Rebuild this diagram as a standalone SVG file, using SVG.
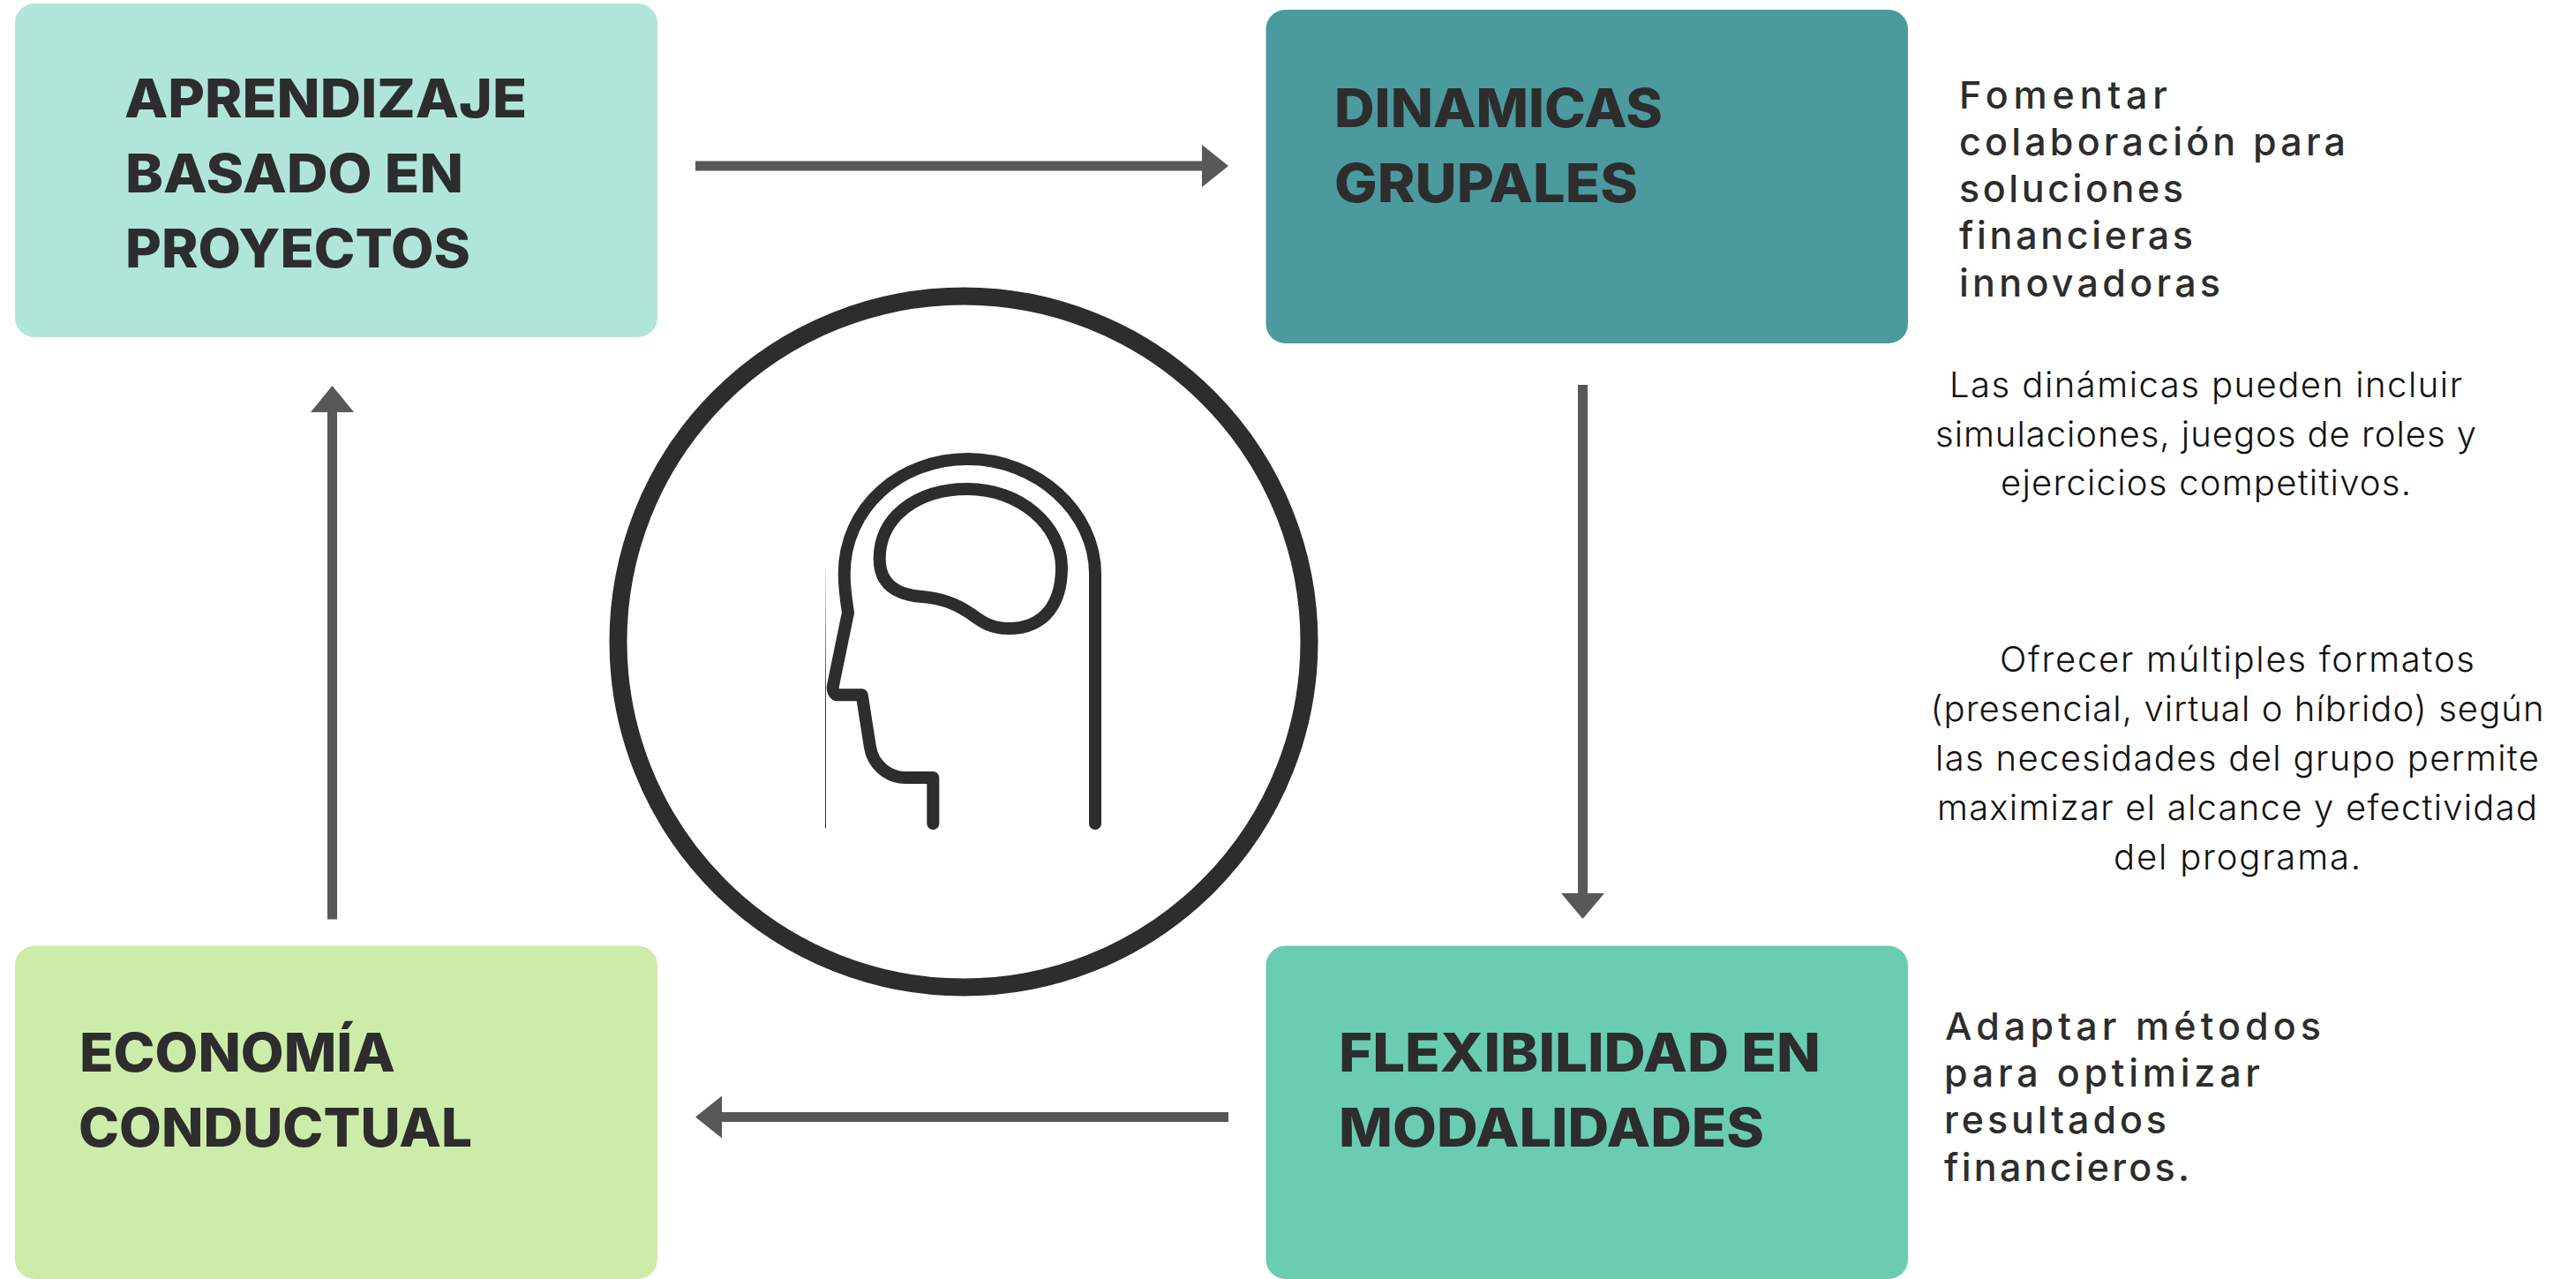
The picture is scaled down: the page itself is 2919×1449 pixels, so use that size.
<svg xmlns="http://www.w3.org/2000/svg" width="2919" height="1449" viewBox="0 0 2919 1449">
<style>
.h{font-family:"Inter","Liberation Sans",sans-serif;font-weight:800;font-size:60px;fill:#2d2d2d}
.b{font-family:"Inter","Liberation Sans",sans-serif;font-weight:500;font-size:43px;fill:#2d2d2d}
.t{font-family:"Inter","Liberation Sans",sans-serif;font-weight:300;font-size:40px;fill:#111;text-anchor:middle}
.ln{fill:none;stroke:#2d2d2d;stroke-width:14;stroke-linecap:round;stroke-linejoin:round}
.c{stroke:#585858;stroke-width:11;fill:none}
.a{fill:#585858}
</style>
<defs><linearGradient id="fade" gradientUnits="userSpaceOnUse" x1="0" y1="643" x2="0" y2="800"><stop offset="0" stop-color="#2d2d2d" stop-opacity="0.1"/><stop offset="1" stop-color="#2d2d2d"/></linearGradient></defs>
<rect width="2919" height="1449" fill="#fff"/>
<g id="connectors">
<path class="c" d="M788 188H1368"/><path class="a" d="M1392 188L1362 164V212Z"/>
<path class="c" d="M1793.500 436V1016"/><path class="a" d="M1793.500 1041L1769 1012H1818Z"/>
<path class="c" d="M1392 1265.500H812"/><path class="a" d="M788 1265.500L818 1241.500V1289.500Z"/>
<path class="c" d="M376.500 1041.500V461"/><path class="a" d="M376.500 437L352 467H401Z"/>
</g>
<g id="node-aprendizaje">
<rect x="17" y="4" width="728" height="378" rx="22" fill="#b0e6da"/>
<text class="h" x="141" y="133" textLength="456" lengthAdjust="spacingAndGlyphs">APRENDIZAJE</text>
<text class="h" x="142" y="218" textLength="383" lengthAdjust="spacingAndGlyphs">BASADO EN</text>
<text class="h" x="142" y="303" textLength="391" lengthAdjust="spacingAndGlyphs">PROYECTOS</text>
</g>
<g id="node-dinamicas">
<rect x="1434.500" y="11" width="727.500" height="378" rx="22" fill="#4b9a9e"/>
<text class="h" x="1512" y="143.500" textLength="372" lengthAdjust="spacingAndGlyphs">DINAMICAS</text>
<text class="h" x="1512" y="228.500" textLength="344" lengthAdjust="spacingAndGlyphs">GRUPALES</text>
</g>
<g id="node-flexibilidad">
<rect x="1434.500" y="1071.500" width="727.500" height="377.500" rx="22" fill="#6acdb2"/>
<text class="h" x="1517" y="1214" textLength="546" lengthAdjust="spacingAndGlyphs">FLEXIBILIDAD EN</text>
<text class="h" x="1517" y="1299" textLength="482" lengthAdjust="spacingAndGlyphs">MODALIDADES</text>
</g>
<g id="node-economia">
<rect x="17" y="1071.500" width="728" height="377.500" rx="22" fill="#cdeca9"/>
<text class="h" x="90" y="1214" textLength="358" lengthAdjust="spacingAndGlyphs">ECONOMÍA</text>
<text class="h" x="89" y="1299" textLength="446" lengthAdjust="spacingAndGlyphs">CONDUCTUAL</text>
</g>
<g id="node-center">
<circle cx="1092" cy="727" r="391.500" fill="#fff" stroke="#2d2d2d" stroke-width="20"/>
<path class="ln" d="M1057.300 933V881H1026.700C1006 881 989 866 986 846.700L976.700 787.300H950C945 787.300 943 782 944 776.700L961 694C958 675 956.700 665 956.700 650C956.700 575 1020 520 1096.700 520C1175 520 1241 580 1241 650V933"/>
<path class="ln" d="M996.700 633C996.700 585 1040 554 1096.700 554C1155 554 1203 595 1203 643C1203 682 1185 712 1143 712C1120 712 1110 702 1098 694C1083 684 1068 678 1045 676C1020 674 996.700 665 996.700 633Z"/>
<path d="M935.500 643V938" stroke="url(#fade)" stroke-width="1" fill="none"/>
</g>
<g id="text-blocks">
<text class="b" x="2220" y="123" textLength="236" lengthAdjust="spacing">Fomentar</text>
<text class="b" x="2220" y="175.500" textLength="438" lengthAdjust="spacing">colaboración para</text>
<text class="b" x="2220" y="229" textLength="254" lengthAdjust="spacing">soluciones</text>
<text class="b" x="2220" y="282" textLength="265" lengthAdjust="spacing">financieras</text>
<text class="b" x="2220" y="336" textLength="296" lengthAdjust="spacing">innovadoras</text>
<text class="t" x="2499.500" y="450" textLength="581" lengthAdjust="spacing">Las dinámicas pueden incluir</text>
<text class="t" x="2499.500" y="505.500" textLength="613" lengthAdjust="spacing">simulaciones, juegos de roles y</text>
<text class="t" x="2499.500" y="561" textLength="465" lengthAdjust="spacing">ejercicios competitivos.</text>
<text class="t" x="2535" y="761" textLength="538" lengthAdjust="spacing">Ofrecer múltiples formatos</text>
<text class="t" x="2535" y="817" textLength="695" lengthAdjust="spacing">(presencial, virtual o híbrido) según</text>
<text class="t" x="2535" y="873" textLength="684" lengthAdjust="spacing">las necesidades del grupo permite</text>
<text class="t" x="2535" y="929" textLength="680" lengthAdjust="spacing">maximizar el alcance y efectividad</text>
<text class="t" x="2535" y="985" textLength="280" lengthAdjust="spacing">del programa.</text>
<text class="b" x="2204" y="1178" textLength="426" lengthAdjust="spacing">Adaptar métodos</text>
<text class="b" x="2203" y="1231" textLength="358" lengthAdjust="spacing">para optimizar</text>
<text class="b" x="2203" y="1284" textLength="252" lengthAdjust="spacing">resultados</text>
<text class="b" x="2203" y="1337.500" textLength="278" lengthAdjust="spacing">financieros.</text>
</g>
</svg>
